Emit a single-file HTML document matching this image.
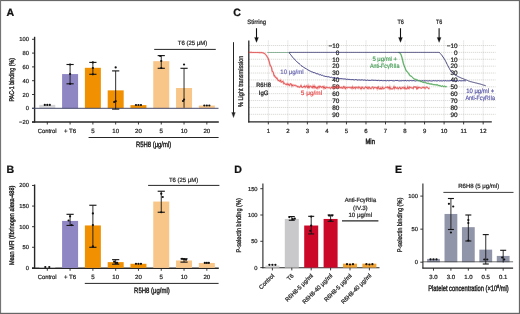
<!DOCTYPE html>
<html><head><meta charset="utf-8"><style>
html,body{margin:0;padding:0;background:#fff;}
body{width:520px;height:314px;overflow:hidden;}
svg{display:block;font-family:"Liberation Sans", sans-serif;will-change:transform;text-rendering:geometricPrecision;}

</style></head><body>
<svg width="520" height="314" viewBox="0 0 520 314">
<rect x="0" y="0" width="520" height="314" fill="#fff"/>
<line x1="34.60" y1="36.80" x2="34.60" y2="122.50" stroke="#262626" stroke-width="1.4"/>
<line x1="32.00" y1="39.30" x2="34.60" y2="39.30" stroke="#262626" stroke-width="0.9"/>
<text x="28.90" y="41.30" font-size="5.8" text-anchor="end" fill="#2a2a2a" stroke="#2a2a2a" stroke-width="0.24">100</text>
<line x1="32.00" y1="53.10" x2="34.60" y2="53.10" stroke="#262626" stroke-width="0.9"/>
<text x="28.90" y="55.10" font-size="5.8" text-anchor="end" fill="#2a2a2a" stroke="#2a2a2a" stroke-width="0.24">80</text>
<line x1="32.00" y1="66.90" x2="34.60" y2="66.90" stroke="#262626" stroke-width="0.9"/>
<text x="28.90" y="68.90" font-size="5.8" text-anchor="end" fill="#2a2a2a" stroke="#2a2a2a" stroke-width="0.24">60</text>
<line x1="32.00" y1="80.70" x2="34.60" y2="80.70" stroke="#262626" stroke-width="0.9"/>
<text x="28.90" y="82.70" font-size="5.8" text-anchor="end" fill="#2a2a2a" stroke="#2a2a2a" stroke-width="0.24">40</text>
<line x1="32.00" y1="94.50" x2="34.60" y2="94.50" stroke="#262626" stroke-width="0.9"/>
<text x="28.90" y="96.50" font-size="5.8" text-anchor="end" fill="#2a2a2a" stroke="#2a2a2a" stroke-width="0.24">20</text>
<line x1="32.00" y1="108.30" x2="34.60" y2="108.30" stroke="#262626" stroke-width="0.9"/>
<text x="28.90" y="110.30" font-size="5.8" text-anchor="end" fill="#2a2a2a" stroke="#2a2a2a" stroke-width="0.24">0</text>
<line x1="32.00" y1="122.10" x2="34.60" y2="122.10" stroke="#262626" stroke-width="0.9"/>
<text x="28.90" y="124.10" font-size="5.8" text-anchor="end" fill="#2a2a2a" stroke="#2a2a2a" stroke-width="0.24">&#8722;20</text>
<text x="14.40" y="79.80" font-size="6.9" text-anchor="middle" fill="#1e1e1e" stroke="#1e1e1e" stroke-width="0.38" textLength="43.5" lengthAdjust="spacingAndGlyphs" transform="rotate(-90 14.40 79.80)">PAC-1 binding (%)</text>
<line x1="32.00" y1="121.90" x2="218.80" y2="121.90" stroke="#262626" stroke-width="1.5"/>
<line x1="47.30" y1="121.90" x2="47.30" y2="124.50" stroke="#262626" stroke-width="0.9"/>
<text x="47.10" y="132.80" font-size="6.1" text-anchor="middle" fill="#2a2a2a" stroke="#2a2a2a" stroke-width="0.24" textLength="18.8" lengthAdjust="spacingAndGlyphs">Control</text>
<line x1="70.09" y1="121.90" x2="70.09" y2="124.50" stroke="#262626" stroke-width="0.9"/>
<text x="70.09" y="132.80" font-size="6.1" text-anchor="middle" fill="#2a2a2a" stroke="#2a2a2a" stroke-width="0.24">+ T6</text>
<line x1="92.88" y1="121.90" x2="92.88" y2="124.50" stroke="#262626" stroke-width="0.9"/>
<text x="92.88" y="132.80" font-size="6.1" text-anchor="middle" fill="#2a2a2a" stroke="#2a2a2a" stroke-width="0.24">5</text>
<line x1="115.67" y1="121.90" x2="115.67" y2="124.50" stroke="#262626" stroke-width="0.9"/>
<text x="115.67" y="132.80" font-size="6.1" text-anchor="middle" fill="#2a2a2a" stroke="#2a2a2a" stroke-width="0.24">10</text>
<line x1="138.46" y1="121.90" x2="138.46" y2="124.50" stroke="#262626" stroke-width="0.9"/>
<text x="138.46" y="132.80" font-size="6.1" text-anchor="middle" fill="#2a2a2a" stroke="#2a2a2a" stroke-width="0.24">20</text>
<line x1="161.25" y1="121.90" x2="161.25" y2="124.50" stroke="#262626" stroke-width="0.9"/>
<text x="161.25" y="132.80" font-size="6.1" text-anchor="middle" fill="#2a2a2a" stroke="#2a2a2a" stroke-width="0.24">5</text>
<line x1="184.04" y1="121.90" x2="184.04" y2="124.50" stroke="#262626" stroke-width="0.9"/>
<text x="184.04" y="132.80" font-size="6.1" text-anchor="middle" fill="#2a2a2a" stroke="#2a2a2a" stroke-width="0.24">10</text>
<line x1="206.83" y1="121.90" x2="206.83" y2="124.50" stroke="#262626" stroke-width="0.9"/>
<text x="206.83" y="132.80" font-size="6.1" text-anchor="middle" fill="#2a2a2a" stroke="#2a2a2a" stroke-width="0.24">20</text>
<line x1="88.60" y1="137.50" x2="218.60" y2="137.50" stroke="#262626" stroke-width="1.0"/>
<text x="136.00" y="146.90" font-size="7.7" text-anchor="start" fill="#222" stroke="#222" stroke-width="0.4" textLength="35.2" lengthAdjust="spacingAndGlyphs">R5H8 (&#956;g/ml)</text>
<line x1="154.20" y1="49.40" x2="215.80" y2="49.40" stroke="#262626" stroke-width="1.0"/>
<text x="192.50" y="45.30" font-size="6.2" text-anchor="middle" fill="#2a2a2a" stroke="#2a2a2a" stroke-width="0.24" textLength="29.5" lengthAdjust="spacingAndGlyphs">T6 (25 &#956;M)</text>
<rect x="39.30" y="104.85" width="16.00" height="3.45" fill="#d6d6d8"/>
<rect x="62.09" y="74.08" width="16.00" height="34.22" fill="#8f86c4"/>
<rect x="84.88" y="67.80" width="16.00" height="40.50" fill="#f19102"/>
<rect x="107.67" y="90.36" width="16.00" height="17.94" fill="#f19102"/>
<rect x="130.46" y="105.13" width="16.00" height="3.17" fill="#f19102"/>
<rect x="153.25" y="61.17" width="16.00" height="47.13" fill="#f9c689"/>
<rect x="176.04" y="88.01" width="16.00" height="20.29" fill="#f9c689"/>
<rect x="198.83" y="105.54" width="16.00" height="2.76" fill="#f9c689"/>
<line x1="32.00" y1="108.30" x2="218.50" y2="108.30" stroke="#454a6a" stroke-width="1.0"/>
<line x1="70.09" y1="64.50" x2="70.09" y2="83.80" stroke="#161616" stroke-width="0.9"/>
<line x1="66.49" y1="64.50" x2="73.69" y2="64.50" stroke="#161616" stroke-width="1.125"/>
<line x1="66.49" y1="83.80" x2="73.69" y2="83.80" stroke="#161616" stroke-width="1.125"/>
<line x1="92.88" y1="62.40" x2="92.88" y2="74.30" stroke="#161616" stroke-width="0.9"/>
<line x1="89.28" y1="62.40" x2="96.48" y2="62.40" stroke="#161616" stroke-width="1.125"/>
<line x1="89.28" y1="74.30" x2="96.48" y2="74.30" stroke="#161616" stroke-width="1.125"/>
<line x1="115.67" y1="70.90" x2="115.67" y2="109.10" stroke="#161616" stroke-width="0.9"/>
<line x1="112.07" y1="70.90" x2="119.27" y2="70.90" stroke="#161616" stroke-width="1.125"/>
<line x1="112.07" y1="109.10" x2="119.27" y2="109.10" stroke="#161616" stroke-width="1.125"/>
<line x1="161.25" y1="55.60" x2="161.25" y2="68.30" stroke="#161616" stroke-width="0.9"/>
<line x1="157.65" y1="55.60" x2="164.85" y2="55.60" stroke="#161616" stroke-width="1.125"/>
<line x1="157.65" y1="68.30" x2="164.85" y2="68.30" stroke="#161616" stroke-width="1.125"/>
<line x1="184.04" y1="68.30" x2="184.04" y2="107.80" stroke="#161616" stroke-width="0.9"/>
<line x1="180.44" y1="68.30" x2="187.64" y2="68.30" stroke="#161616" stroke-width="1.125"/>
<circle cx="44.80" cy="104.90" r="1.12" fill="#111"/>
<circle cx="47.30" cy="104.90" r="1.12" fill="#111"/>
<circle cx="49.80" cy="104.90" r="1.12" fill="#111"/>
<circle cx="70.09" cy="64.50" r="1.12" fill="#111"/>
<circle cx="70.09" cy="74.00" r="1.12" fill="#111"/>
<circle cx="70.09" cy="83.80" r="1.12" fill="#111"/>
<circle cx="92.88" cy="62.40" r="1.12" fill="#111"/>
<circle cx="92.88" cy="68.00" r="1.12" fill="#111"/>
<circle cx="92.88" cy="74.30" r="1.12" fill="#111"/>
<circle cx="115.67" cy="67.40" r="1.12" fill="#111"/>
<circle cx="115.67" cy="101.20" r="1.12" fill="#111"/>
<circle cx="114.17" cy="102.00" r="1.12" fill="#111"/>
<circle cx="135.96" cy="105.00" r="1.12" fill="#111"/>
<circle cx="138.46" cy="105.00" r="1.12" fill="#111"/>
<circle cx="140.96" cy="105.00" r="1.12" fill="#111"/>
<circle cx="160.25" cy="56.00" r="1.12" fill="#111"/>
<circle cx="161.25" cy="61.00" r="1.12" fill="#111"/>
<circle cx="161.25" cy="68.00" r="1.12" fill="#111"/>
<circle cx="184.04" cy="64.50" r="1.12" fill="#111"/>
<circle cx="184.04" cy="99.50" r="1.12" fill="#111"/>
<circle cx="183.04" cy="101.00" r="1.12" fill="#111"/>
<circle cx="204.33" cy="105.50" r="1.12" fill="#111"/>
<circle cx="206.83" cy="105.50" r="1.12" fill="#111"/>
<circle cx="209.33" cy="105.50" r="1.12" fill="#111"/>
<line x1="34.60" y1="184.50" x2="34.60" y2="268.80" stroke="#262626" stroke-width="1.4"/>
<line x1="32.00" y1="185.46" x2="34.60" y2="185.46" stroke="#262626" stroke-width="0.9"/>
<text x="28.90" y="187.46" font-size="5.8" text-anchor="end" fill="#2a2a2a" stroke="#2a2a2a" stroke-width="0.24">200</text>
<line x1="32.00" y1="206.07" x2="34.60" y2="206.07" stroke="#262626" stroke-width="0.9"/>
<text x="28.90" y="208.07" font-size="5.8" text-anchor="end" fill="#2a2a2a" stroke="#2a2a2a" stroke-width="0.24">150</text>
<line x1="32.00" y1="226.68" x2="34.60" y2="226.68" stroke="#262626" stroke-width="0.9"/>
<text x="28.90" y="228.68" font-size="5.8" text-anchor="end" fill="#2a2a2a" stroke="#2a2a2a" stroke-width="0.24">100</text>
<line x1="32.00" y1="247.29" x2="34.60" y2="247.29" stroke="#262626" stroke-width="0.9"/>
<text x="28.90" y="249.29" font-size="5.8" text-anchor="end" fill="#2a2a2a" stroke="#2a2a2a" stroke-width="0.24">50</text>
<line x1="32.00" y1="267.90" x2="34.60" y2="267.90" stroke="#262626" stroke-width="0.9"/>
<text x="28.90" y="269.90" font-size="5.8" text-anchor="end" fill="#2a2a2a" stroke="#2a2a2a" stroke-width="0.24">0</text>
<text x="13.70" y="225.40" font-size="6.9" text-anchor="middle" fill="#1e1e1e" stroke="#1e1e1e" stroke-width="0.38" textLength="79.3" lengthAdjust="spacingAndGlyphs" transform="rotate(-90 13.70 225.40)">Mean MFI (fibrinogen alexa-488)</text>
<line x1="32.00" y1="268.20" x2="218.80" y2="268.20" stroke="#262626" stroke-width="1.5"/>
<line x1="47.30" y1="268.20" x2="47.30" y2="270.80" stroke="#262626" stroke-width="0.9"/>
<text x="47.10" y="279.30" font-size="6.1" text-anchor="middle" fill="#2a2a2a" stroke="#2a2a2a" stroke-width="0.24" textLength="18.8" lengthAdjust="spacingAndGlyphs">Control</text>
<line x1="70.09" y1="268.20" x2="70.09" y2="270.80" stroke="#262626" stroke-width="0.9"/>
<text x="70.09" y="279.30" font-size="6.1" text-anchor="middle" fill="#2a2a2a" stroke="#2a2a2a" stroke-width="0.24">+ T6</text>
<line x1="92.88" y1="268.20" x2="92.88" y2="270.80" stroke="#262626" stroke-width="0.9"/>
<text x="92.88" y="279.30" font-size="6.1" text-anchor="middle" fill="#2a2a2a" stroke="#2a2a2a" stroke-width="0.24">5</text>
<line x1="115.67" y1="268.20" x2="115.67" y2="270.80" stroke="#262626" stroke-width="0.9"/>
<text x="115.67" y="279.30" font-size="6.1" text-anchor="middle" fill="#2a2a2a" stroke="#2a2a2a" stroke-width="0.24">10</text>
<line x1="138.46" y1="268.20" x2="138.46" y2="270.80" stroke="#262626" stroke-width="0.9"/>
<text x="138.46" y="279.30" font-size="6.1" text-anchor="middle" fill="#2a2a2a" stroke="#2a2a2a" stroke-width="0.24">20</text>
<line x1="161.25" y1="268.20" x2="161.25" y2="270.80" stroke="#262626" stroke-width="0.9"/>
<text x="161.25" y="279.30" font-size="6.1" text-anchor="middle" fill="#2a2a2a" stroke="#2a2a2a" stroke-width="0.24">5</text>
<line x1="184.04" y1="268.20" x2="184.04" y2="270.80" stroke="#262626" stroke-width="0.9"/>
<text x="184.04" y="279.30" font-size="6.1" text-anchor="middle" fill="#2a2a2a" stroke="#2a2a2a" stroke-width="0.24">10</text>
<line x1="206.83" y1="268.20" x2="206.83" y2="270.80" stroke="#262626" stroke-width="0.9"/>
<text x="206.83" y="279.30" font-size="6.1" text-anchor="middle" fill="#2a2a2a" stroke="#2a2a2a" stroke-width="0.24">20</text>
<line x1="84.80" y1="283.40" x2="218.60" y2="283.40" stroke="#262626" stroke-width="1.0"/>
<text x="134.10" y="293.30" font-size="7.7" text-anchor="start" fill="#222" stroke="#222" stroke-width="0.4" textLength="35.7" lengthAdjust="spacingAndGlyphs">R5H8 (&#956;g/ml)</text>
<line x1="148.10" y1="185.40" x2="219.40" y2="185.40" stroke="#262626" stroke-width="1.0"/>
<text x="183.60" y="181.50" font-size="6.2" text-anchor="middle" fill="#2a2a2a" stroke="#2a2a2a" stroke-width="0.24" textLength="29.3" lengthAdjust="spacingAndGlyphs">T6 (25 &#956;M)</text>
<rect x="39.30" y="267.28" width="16.00" height="0.62" fill="#d6d6d8"/>
<rect x="62.09" y="220.91" width="16.00" height="46.99" fill="#8f86c4"/>
<rect x="84.88" y="225.44" width="16.00" height="42.46" fill="#f19102"/>
<rect x="107.67" y="262.13" width="16.00" height="5.77" fill="#f19102"/>
<rect x="130.46" y="263.78" width="16.00" height="4.12" fill="#f19102"/>
<rect x="153.25" y="201.54" width="16.00" height="66.36" fill="#f9c689"/>
<rect x="176.04" y="260.48" width="16.00" height="7.42" fill="#f9c689"/>
<rect x="198.83" y="262.95" width="16.00" height="4.95" fill="#f9c689"/>
<line x1="70.09" y1="214.31" x2="70.09" y2="225.44" stroke="#161616" stroke-width="0.9"/>
<line x1="66.49" y1="214.31" x2="73.69" y2="214.31" stroke="#161616" stroke-width="1.125"/>
<line x1="66.49" y1="225.44" x2="73.69" y2="225.44" stroke="#161616" stroke-width="1.125"/>
<line x1="92.88" y1="205.25" x2="92.88" y2="247.29" stroke="#161616" stroke-width="0.9"/>
<line x1="89.28" y1="205.25" x2="96.48" y2="205.25" stroke="#161616" stroke-width="1.125"/>
<line x1="89.28" y1="247.29" x2="96.48" y2="247.29" stroke="#161616" stroke-width="1.125"/>
<line x1="115.67" y1="259.66" x2="115.67" y2="264.19" stroke="#161616" stroke-width="0.9"/>
<line x1="112.07" y1="259.66" x2="119.27" y2="259.66" stroke="#161616" stroke-width="1.125"/>
<line x1="112.07" y1="264.19" x2="119.27" y2="264.19" stroke="#161616" stroke-width="1.125"/>
<line x1="161.25" y1="191.23" x2="161.25" y2="212.25" stroke="#161616" stroke-width="0.9"/>
<line x1="157.65" y1="191.23" x2="164.85" y2="191.23" stroke="#161616" stroke-width="1.125"/>
<line x1="157.65" y1="212.25" x2="164.85" y2="212.25" stroke="#161616" stroke-width="1.125"/>
<line x1="184.04" y1="258.83" x2="184.04" y2="262.13" stroke="#161616" stroke-width="0.9"/>
<line x1="180.44" y1="258.83" x2="187.64" y2="258.83" stroke="#161616" stroke-width="1.125"/>
<line x1="180.44" y1="262.13" x2="187.64" y2="262.13" stroke="#161616" stroke-width="1.125"/>
<circle cx="45.30" cy="267.00" r="1.12" fill="#111"/>
<circle cx="49.30" cy="267.00" r="1.12" fill="#111"/>
<circle cx="70.09" cy="216.37" r="1.12" fill="#111"/>
<circle cx="68.59" cy="220.50" r="1.12" fill="#111"/>
<circle cx="71.59" cy="225.03" r="1.12" fill="#111"/>
<circle cx="92.88" cy="213.49" r="1.12" fill="#111"/>
<circle cx="92.88" cy="225.03" r="1.12" fill="#111"/>
<circle cx="92.88" cy="246.47" r="1.12" fill="#111"/>
<circle cx="114.17" cy="261.72" r="1.12" fill="#111"/>
<circle cx="115.67" cy="262.95" r="1.12" fill="#111"/>
<circle cx="117.17" cy="262.95" r="1.12" fill="#111"/>
<circle cx="135.96" cy="263.78" r="1.12" fill="#111"/>
<circle cx="138.46" cy="263.78" r="1.12" fill="#111"/>
<circle cx="140.96" cy="263.78" r="1.12" fill="#111"/>
<circle cx="161.25" cy="193.70" r="1.12" fill="#111"/>
<circle cx="162.75" cy="197.00" r="1.12" fill="#111"/>
<circle cx="161.25" cy="212.25" r="1.12" fill="#111"/>
<circle cx="182.04" cy="258.83" r="1.12" fill="#111"/>
<circle cx="184.04" cy="259.24" r="1.12" fill="#111"/>
<circle cx="186.04" cy="259.66" r="1.12" fill="#111"/>
<circle cx="204.83" cy="262.95" r="1.12" fill="#111"/>
<circle cx="206.83" cy="262.95" r="1.12" fill="#111"/>
<circle cx="208.83" cy="262.95" r="1.12" fill="#111"/>
<text x="6.50" y="15.50" font-size="10.6" text-anchor="start" fill="#111" stroke="#111" stroke-width="0.24" font-weight="bold">A</text>
<text x="6.60" y="172.70" font-size="10.6" text-anchor="start" fill="#111" stroke="#111" stroke-width="0.24" font-weight="bold">B</text>
<text x="233.30" y="15.50" font-size="10.6" text-anchor="start" fill="#111" stroke="#111" stroke-width="0.24" font-weight="bold">C</text>
<text x="234.30" y="172.60" font-size="10.6" text-anchor="start" fill="#111" stroke="#111" stroke-width="0.24" font-weight="bold">D</text>
<text x="395.00" y="172.70" font-size="10.6" text-anchor="start" fill="#111" stroke="#111" stroke-width="0.24" font-weight="bold">E</text>
<line x1="268.33" y1="40.50" x2="268.33" y2="121.90" stroke="#c4c4c4" stroke-width="0.6" stroke-dasharray="1.2 0.8"/>
<line x1="287.86" y1="40.50" x2="287.86" y2="121.90" stroke="#c4c4c4" stroke-width="0.6" stroke-dasharray="1.2 0.8"/>
<line x1="307.39" y1="40.50" x2="307.39" y2="121.90" stroke="#c4c4c4" stroke-width="0.6" stroke-dasharray="1.2 0.8"/>
<line x1="326.92" y1="40.50" x2="326.92" y2="121.90" stroke="#c4c4c4" stroke-width="0.6" stroke-dasharray="1.2 0.8"/>
<line x1="346.45" y1="40.50" x2="346.45" y2="121.90" stroke="#c4c4c4" stroke-width="0.6" stroke-dasharray="1.2 0.8"/>
<line x1="365.98" y1="40.50" x2="365.98" y2="121.90" stroke="#c4c4c4" stroke-width="0.6" stroke-dasharray="1.2 0.8"/>
<line x1="385.51" y1="40.50" x2="385.51" y2="121.90" stroke="#c4c4c4" stroke-width="0.6" stroke-dasharray="1.2 0.8"/>
<line x1="405.04" y1="40.50" x2="405.04" y2="121.90" stroke="#c4c4c4" stroke-width="0.6" stroke-dasharray="1.2 0.8"/>
<line x1="424.57" y1="40.50" x2="424.57" y2="121.90" stroke="#c4c4c4" stroke-width="0.6" stroke-dasharray="1.2 0.8"/>
<line x1="444.10" y1="40.50" x2="444.10" y2="121.90" stroke="#c4c4c4" stroke-width="0.6" stroke-dasharray="1.2 0.8"/>
<line x1="463.63" y1="40.50" x2="463.63" y2="121.90" stroke="#c4c4c4" stroke-width="0.6" stroke-dasharray="1.2 0.8"/>
<line x1="483.16" y1="40.50" x2="483.16" y2="121.90" stroke="#c4c4c4" stroke-width="0.6" stroke-dasharray="1.2 0.8"/>
<line x1="248.80" y1="45.52" x2="495.50" y2="45.52" stroke="#b4b4ac" stroke-width="0.6" stroke-dasharray="1 1"/>
<line x1="248.80" y1="52.40" x2="495.50" y2="52.40" stroke="#b4b4ac" stroke-width="0.6" stroke-dasharray="1 1"/>
<line x1="248.80" y1="59.28" x2="495.50" y2="59.28" stroke="#b4b4ac" stroke-width="0.6" stroke-dasharray="1 1"/>
<line x1="248.80" y1="66.16" x2="495.50" y2="66.16" stroke="#b4b4ac" stroke-width="0.6" stroke-dasharray="1 1"/>
<line x1="248.80" y1="73.04" x2="495.50" y2="73.04" stroke="#b4b4ac" stroke-width="0.6" stroke-dasharray="1 1"/>
<line x1="248.80" y1="79.92" x2="495.50" y2="79.92" stroke="#b4b4ac" stroke-width="0.6" stroke-dasharray="1 1"/>
<line x1="248.80" y1="86.80" x2="495.50" y2="86.80" stroke="#b4b4ac" stroke-width="0.6" stroke-dasharray="1 1"/>
<line x1="248.80" y1="93.68" x2="495.50" y2="93.68" stroke="#b4b4ac" stroke-width="0.6" stroke-dasharray="1 1"/>
<line x1="248.80" y1="100.56" x2="495.50" y2="100.56" stroke="#b4b4ac" stroke-width="0.6" stroke-dasharray="1 1"/>
<line x1="248.80" y1="107.44" x2="495.50" y2="107.44" stroke="#b4b4ac" stroke-width="0.6" stroke-dasharray="1 1"/>
<line x1="248.80" y1="114.32" x2="495.50" y2="114.32" stroke="#b4b4ac" stroke-width="0.6" stroke-dasharray="1 1"/>
<line x1="248.80" y1="40.50" x2="248.80" y2="122.50" stroke="#262626" stroke-width="1.3"/>
<line x1="248.20" y1="121.90" x2="491.80" y2="121.90" stroke="#262626" stroke-width="1.3"/>
<line x1="268.33" y1="121.90" x2="268.33" y2="124.40" stroke="#262626" stroke-width="0.9"/>
<text x="268.33" y="132.70" font-size="6.0" text-anchor="middle" fill="#2a2a2a" stroke="#2a2a2a" stroke-width="0.24">1</text>
<line x1="287.86" y1="121.90" x2="287.86" y2="124.40" stroke="#262626" stroke-width="0.9"/>
<text x="287.86" y="132.70" font-size="6.0" text-anchor="middle" fill="#2a2a2a" stroke="#2a2a2a" stroke-width="0.24">2</text>
<line x1="307.39" y1="121.90" x2="307.39" y2="124.40" stroke="#262626" stroke-width="0.9"/>
<text x="307.39" y="132.70" font-size="6.0" text-anchor="middle" fill="#2a2a2a" stroke="#2a2a2a" stroke-width="0.24">3</text>
<line x1="326.92" y1="121.90" x2="326.92" y2="124.40" stroke="#262626" stroke-width="0.9"/>
<text x="326.92" y="132.70" font-size="6.0" text-anchor="middle" fill="#2a2a2a" stroke="#2a2a2a" stroke-width="0.24">4</text>
<line x1="346.45" y1="121.90" x2="346.45" y2="124.40" stroke="#262626" stroke-width="0.9"/>
<text x="346.45" y="132.70" font-size="6.0" text-anchor="middle" fill="#2a2a2a" stroke="#2a2a2a" stroke-width="0.24">5</text>
<line x1="365.98" y1="121.90" x2="365.98" y2="124.40" stroke="#262626" stroke-width="0.9"/>
<text x="365.98" y="132.70" font-size="6.0" text-anchor="middle" fill="#2a2a2a" stroke="#2a2a2a" stroke-width="0.24">6</text>
<line x1="385.51" y1="121.90" x2="385.51" y2="124.40" stroke="#262626" stroke-width="0.9"/>
<text x="385.51" y="132.70" font-size="6.0" text-anchor="middle" fill="#2a2a2a" stroke="#2a2a2a" stroke-width="0.24">7</text>
<line x1="405.04" y1="121.90" x2="405.04" y2="124.40" stroke="#262626" stroke-width="0.9"/>
<text x="405.04" y="132.70" font-size="6.0" text-anchor="middle" fill="#2a2a2a" stroke="#2a2a2a" stroke-width="0.24">8</text>
<line x1="424.57" y1="121.90" x2="424.57" y2="124.40" stroke="#262626" stroke-width="0.9"/>
<text x="424.57" y="132.70" font-size="6.0" text-anchor="middle" fill="#2a2a2a" stroke="#2a2a2a" stroke-width="0.24">9</text>
<line x1="444.10" y1="121.90" x2="444.10" y2="124.40" stroke="#262626" stroke-width="0.9"/>
<text x="444.10" y="132.70" font-size="6.0" text-anchor="middle" fill="#2a2a2a" stroke="#2a2a2a" stroke-width="0.24">10</text>
<line x1="463.63" y1="121.90" x2="463.63" y2="124.40" stroke="#262626" stroke-width="0.9"/>
<text x="463.63" y="132.70" font-size="6.0" text-anchor="middle" fill="#2a2a2a" stroke="#2a2a2a" stroke-width="0.24">11</text>
<line x1="483.16" y1="121.90" x2="483.16" y2="124.40" stroke="#262626" stroke-width="0.9"/>
<text x="483.16" y="132.70" font-size="6.0" text-anchor="middle" fill="#2a2a2a" stroke="#2a2a2a" stroke-width="0.24">12</text>
<text x="370.20" y="143.60" font-size="7.6" text-anchor="middle" fill="#222" stroke="#222" stroke-width="0.5" textLength="9.3" lengthAdjust="spacingAndGlyphs">Min</text>
<text x="339.40" y="47.77" font-size="6.4" text-anchor="end" fill="#2a2a2a" stroke="#2a2a2a" stroke-width="0.24">&#8722;10</text>
<text x="457.60" y="47.77" font-size="6.4" text-anchor="end" fill="#2a2a2a" stroke="#2a2a2a" stroke-width="0.24">&#8722;10</text>
<text x="339.40" y="54.65" font-size="6.4" text-anchor="end" fill="#2a2a2a" stroke="#2a2a2a" stroke-width="0.24">0</text>
<text x="457.60" y="54.65" font-size="6.4" text-anchor="end" fill="#2a2a2a" stroke="#2a2a2a" stroke-width="0.24">0</text>
<text x="339.40" y="61.53" font-size="6.4" text-anchor="end" fill="#2a2a2a" stroke="#2a2a2a" stroke-width="0.24">10</text>
<text x="457.60" y="61.53" font-size="6.4" text-anchor="end" fill="#2a2a2a" stroke="#2a2a2a" stroke-width="0.24">10</text>
<text x="339.40" y="68.41" font-size="6.4" text-anchor="end" fill="#2a2a2a" stroke="#2a2a2a" stroke-width="0.24">20</text>
<text x="457.60" y="68.41" font-size="6.4" text-anchor="end" fill="#2a2a2a" stroke="#2a2a2a" stroke-width="0.24">20</text>
<text x="339.40" y="75.29" font-size="6.4" text-anchor="end" fill="#2a2a2a" stroke="#2a2a2a" stroke-width="0.24">30</text>
<text x="457.60" y="75.29" font-size="6.4" text-anchor="end" fill="#2a2a2a" stroke="#2a2a2a" stroke-width="0.24">30</text>
<text x="339.40" y="82.17" font-size="6.4" text-anchor="end" fill="#2a2a2a" stroke="#2a2a2a" stroke-width="0.24">40</text>
<text x="457.60" y="82.17" font-size="6.4" text-anchor="end" fill="#2a2a2a" stroke="#2a2a2a" stroke-width="0.24">40</text>
<text x="339.40" y="89.05" font-size="6.4" text-anchor="end" fill="#2a2a2a" stroke="#2a2a2a" stroke-width="0.24">50</text>
<text x="457.60" y="89.05" font-size="6.4" text-anchor="end" fill="#2a2a2a" stroke="#2a2a2a" stroke-width="0.24">50</text>
<text x="339.40" y="95.93" font-size="6.4" text-anchor="end" fill="#2a2a2a" stroke="#2a2a2a" stroke-width="0.24">60</text>
<text x="457.60" y="95.93" font-size="6.4" text-anchor="end" fill="#2a2a2a" stroke="#2a2a2a" stroke-width="0.24">60</text>
<text x="339.40" y="102.81" font-size="6.4" text-anchor="end" fill="#2a2a2a" stroke="#2a2a2a" stroke-width="0.24">70</text>
<text x="457.60" y="102.81" font-size="6.4" text-anchor="end" fill="#2a2a2a" stroke="#2a2a2a" stroke-width="0.24">70</text>
<text x="339.40" y="109.69" font-size="6.4" text-anchor="end" fill="#2a2a2a" stroke="#2a2a2a" stroke-width="0.24">80</text>
<text x="457.60" y="109.69" font-size="6.4" text-anchor="end" fill="#2a2a2a" stroke="#2a2a2a" stroke-width="0.24">80</text>
<text x="339.40" y="116.57" font-size="6.4" text-anchor="end" fill="#2a2a2a" stroke="#2a2a2a" stroke-width="0.24">90</text>
<text x="457.60" y="116.57" font-size="6.4" text-anchor="end" fill="#2a2a2a" stroke="#2a2a2a" stroke-width="0.24">90</text>
<line x1="233.50" y1="42.20" x2="233.50" y2="114.00" stroke="#222" stroke-width="1.0"/>
<path d="M231.7,112.6 L233.5,117.6 L235.3,112.6 Z" stroke="#222" stroke-width="0.3" fill="#222"/>
<text x="243.20" y="81.30" font-size="6.8" text-anchor="middle" fill="#222" stroke="#222" stroke-width="0.3" textLength="51.4" lengthAdjust="spacingAndGlyphs" transform="rotate(-90 243.20 81.30)">% Light transmission</text>
<text x="256.70" y="23.90" font-size="6.3" text-anchor="middle" fill="#2a2a2a" stroke="#2a2a2a" stroke-width="0.24" textLength="18.9" lengthAdjust="spacingAndGlyphs">Stirring</text>
<line x1="256.50" y1="28.20" x2="256.50" y2="38.50" stroke="#111" stroke-width="1.1"/>
<path d="M254.5,37.4 L256.5,42.4 L258.5,37.4 Z" stroke="#111" stroke-width="0.2" fill="#111"/>
<line x1="400.50" y1="28.20" x2="400.50" y2="38.50" stroke="#111" stroke-width="1.1"/>
<path d="M398.5,37.4 L400.5,42.4 L402.5,37.4 Z" stroke="#111" stroke-width="0.2" fill="#111"/>
<line x1="439.10" y1="28.20" x2="439.10" y2="38.50" stroke="#111" stroke-width="1.1"/>
<path d="M437.1,37.4 L439.1,42.4 L441.1,37.4 Z" stroke="#111" stroke-width="0.2" fill="#111"/>
<text x="400.60" y="23.90" font-size="6.3" text-anchor="middle" fill="#2a2a2a" stroke="#2a2a2a" stroke-width="0.24" textLength="6.4" lengthAdjust="spacingAndGlyphs">T6</text>
<text x="439.10" y="23.90" font-size="6.3" text-anchor="middle" fill="#2a2a2a" stroke="#2a2a2a" stroke-width="0.24" textLength="6.3" lengthAdjust="spacingAndGlyphs">T6</text>
<polyline fill="none" stroke="#f07070" stroke-width="1.7" stroke-opacity="0.5" points="248.8,52.4 249.4,52.4 250.0,52.4 250.6,52.4 251.2,52.4 251.8,52.4 252.4,52.5 253.0,52.5 253.6,52.5 254.2,52.5 254.8,52.5 255.4,52.5 256.0,52.5 256.6,52.5 257.2,52.5 257.8,52.5 258.4,52.5 259.0,52.6 259.6,52.6 260.2,52.6 260.8,52.6 261.4,52.6 262.0,52.6 262.6,52.8 263.2,53.0 263.8,53.2 264.4,53.4 265.0,53.9 265.6,54.6 266.2,55.2 266.8,56.1 267.4,57.3 268.0,57.9 268.6,59.9 269.2,61.5 269.8,64.0 270.4,66.0 271.0,66.3 271.6,67.9 272.2,71.5 272.8,71.5 273.4,72.7 274.0,75.7 274.6,75.6 275.2,77.2 275.8,77.2 276.4,78.3 277.0,78.0 277.6,79.6 278.2,80.6 278.8,80.2 279.4,81.1 280.0,81.4 280.6,80.2 281.2,82.2 281.8,82.0 282.4,81.6 283.0,81.3 283.6,83.5 284.2,82.9 284.8,83.7 285.4,84.3 286.0,84.1 286.6,84.7 287.2,83.6 287.8,84.8 288.4,84.1 289.0,85.4 289.6,85.4 290.2,83.7 290.8,83.9 291.4,84.2 292.0,86.1 292.6,85.0 293.2,85.5 293.8,84.9 294.4,85.5 295.0,85.3 295.6,85.3 296.2,85.9 296.8,86.0 297.4,86.8 298.0,86.3 298.6,87.0 299.2,86.9 299.8,87.3 300.4,86.6 301.0,85.4 301.6,87.1 302.2,87.4 302.8,87.4 303.4,86.6 304.0,87.0 304.6,85.9 305.2,87.4 305.8,86.8 306.4,86.1 307.0,85.6 307.6,87.6 308.2,87.9 308.8,85.8 309.4,87.5 310.0,86.6 310.6,86.0 311.2,86.4 311.8,87.6 312.4,87.8 313.0,85.9 313.6,87.3 314.2,85.9 314.8,87.6 315.4,86.7 316.0,88.0 316.6,88.3 317.2,87.2 317.8,88.4 318.4,86.8 319.0,86.2 319.6,87.5 320.2,86.2 320.8,86.6 321.4,87.1 322.0,87.6 322.6,86.5 323.2,86.3 323.8,88.2 324.4,86.9 325.0,88.5 325.6,88.3 326.2,87.1 326.8,87.3 327.4,87.5 328.0,87.8 328.6,87.7 329.2,87.6 329.8,87.8 330.4,88.5 331.0,87.5 331.6,87.3 332.2,88.0 332.8,86.9 333.4,87.0 334.0,88.7 334.6,87.6 335.2,87.7 335.8,86.4 336.4,87.4 337.0,87.8 337.6,86.4 338.2,87.9 338.8,87.9 339.4,86.6 340.0,87.9 340.6,87.6 341.2,88.1 341.8,87.3 342.4,88.2 343.0,88.3 343.6,86.5 344.2,86.6 344.8,88.1 345.4,88.8 346.0,87.1 346.6,87.6 347.2,88.0 347.8,87.3 348.4,87.4 349.0,87.3 349.6,87.5 350.2,88.0 350.8,87.3 351.4,87.5 352.0,88.5 352.6,86.7 353.2,88.0 353.8,88.4 354.4,87.4 355.0,87.1 355.6,88.5 356.2,87.2 356.8,87.1 357.4,87.7 358.0,88.3 358.6,86.9 359.2,87.4 359.8,87.4 360.4,88.6 361.0,87.7 361.6,88.7 362.2,87.0 362.8,87.4 363.4,88.2 364.0,88.8 364.6,87.7 365.2,87.2 365.8,86.9 366.4,87.9 367.0,87.1 367.6,88.6 368.2,88.7 368.8,87.1 369.4,87.3 370.0,88.6 370.6,88.2 371.2,88.6 371.8,87.5 372.4,87.0 373.0,87.4 373.6,88.6 374.2,87.3 374.8,87.5 375.4,87.7 376.0,87.7 376.6,87.6 377.2,88.9 377.8,87.0 378.4,86.7 379.0,88.9 379.6,88.8 380.2,89.0 380.8,87.7 381.4,89.0 382.0,88.9 382.6,87.2 383.2,88.5 383.8,88.7 384.4,88.3 385.0,87.9 385.6,87.4 386.2,87.5 386.8,87.2 387.4,86.9 388.0,88.1 388.6,87.4 389.2,88.6 389.8,86.8 390.4,88.9 391.0,88.4 391.6,88.9 392.2,88.9 392.8,88.9 393.4,88.1 394.0,86.7 394.6,88.5 395.2,87.1 395.8,87.4 396.4,88.3 397.0,88.0 397.6,87.7 398.2,89.0 398.8,88.2 399.4,87.5 400.0,87.3 400.6,88.8 401.2,87.9 401.8,88.6 402.4,87.6 403.0,87.2 403.6,88.0 404.2,88.7 404.8,87.1 405.4,88.6 406.0,89.0 406.6,88.7 407.2,88.7 407.8,86.8 408.4,88.3 409.0,88.8 409.6,86.9 410.2,87.4 410.8,87.4 411.4,88.0 412.0,87.8 412.6,87.9 413.2,88.6 413.8,86.8 414.4,86.9 415.0,87.1 415.6,87.1 416.2,86.9 416.8,89.1 417.4,88.8 418.0,87.0 418.6,88.0 419.2,87.5 419.8,87.5 420.4,87.6 421.0,88.3 421.6,88.2 422.2,87.6 422.8,87.2 423.4,87.6 424.0,87.1 424.6,88.1 425.2,88.5 425.8,87.7 426.4,87.0 427.0,87.2 427.6,87.7 428.2,88.2 428.8,88.7 429.4,87.7"/>
<polyline fill="none" stroke="#d82828" stroke-width="0.6" points="248.8,52.4 249.4,52.4 250.0,52.4 250.6,52.4 251.2,52.4 251.8,52.4 252.4,52.5 253.0,52.5 253.6,52.5 254.2,52.5 254.8,52.5 255.4,52.5 256.0,52.5 256.6,52.5 257.2,52.5 257.8,52.5 258.4,52.5 259.0,52.6 259.6,52.6 260.2,52.6 260.8,52.6 261.4,52.6 262.0,52.6 262.6,52.8 263.2,53.0 263.8,53.2 264.4,53.4 265.0,53.9 265.6,54.6 266.2,55.2 266.8,56.1 267.4,57.3 268.0,57.9 268.6,59.9 269.2,61.5 269.8,64.0 270.4,66.0 271.0,66.3 271.6,67.9 272.2,71.5 272.8,71.5 273.4,72.7 274.0,75.7 274.6,75.6 275.2,77.2 275.8,77.2 276.4,78.3 277.0,78.0 277.6,79.6 278.2,80.6 278.8,80.2 279.4,81.1 280.0,81.4 280.6,80.2 281.2,82.2 281.8,82.0 282.4,81.6 283.0,81.3 283.6,83.5 284.2,82.9 284.8,83.7 285.4,84.3 286.0,84.1 286.6,84.7 287.2,83.6 287.8,84.8 288.4,84.1 289.0,85.4 289.6,85.4 290.2,83.7 290.8,83.9 291.4,84.2 292.0,86.1 292.6,85.0 293.2,85.5 293.8,84.9 294.4,85.5 295.0,85.3 295.6,85.3 296.2,85.9 296.8,86.0 297.4,86.8 298.0,86.3 298.6,87.0 299.2,86.9 299.8,87.3 300.4,86.6 301.0,85.4 301.6,87.1 302.2,87.4 302.8,87.4 303.4,86.6 304.0,87.0 304.6,85.9 305.2,87.4 305.8,86.8 306.4,86.1 307.0,85.6 307.6,87.6 308.2,87.9 308.8,85.8 309.4,87.5 310.0,86.6 310.6,86.0 311.2,86.4 311.8,87.6 312.4,87.8 313.0,85.9 313.6,87.3 314.2,85.9 314.8,87.6 315.4,86.7 316.0,88.0 316.6,88.3 317.2,87.2 317.8,88.4 318.4,86.8 319.0,86.2 319.6,87.5 320.2,86.2 320.8,86.6 321.4,87.1 322.0,87.6 322.6,86.5 323.2,86.3 323.8,88.2 324.4,86.9 325.0,88.5 325.6,88.3 326.2,87.1 326.8,87.3 327.4,87.5 328.0,87.8 328.6,87.7 329.2,87.6 329.8,87.8 330.4,88.5 331.0,87.5 331.6,87.3 332.2,88.0 332.8,86.9 333.4,87.0 334.0,88.7 334.6,87.6 335.2,87.7 335.8,86.4 336.4,87.4 337.0,87.8 337.6,86.4 338.2,87.9 338.8,87.9 339.4,86.6 340.0,87.9 340.6,87.6 341.2,88.1 341.8,87.3 342.4,88.2 343.0,88.3 343.6,86.5 344.2,86.6 344.8,88.1 345.4,88.8 346.0,87.1 346.6,87.6 347.2,88.0 347.8,87.3 348.4,87.4 349.0,87.3 349.6,87.5 350.2,88.0 350.8,87.3 351.4,87.5 352.0,88.5 352.6,86.7 353.2,88.0 353.8,88.4 354.4,87.4 355.0,87.1 355.6,88.5 356.2,87.2 356.8,87.1 357.4,87.7 358.0,88.3 358.6,86.9 359.2,87.4 359.8,87.4 360.4,88.6 361.0,87.7 361.6,88.7 362.2,87.0 362.8,87.4 363.4,88.2 364.0,88.8 364.6,87.7 365.2,87.2 365.8,86.9 366.4,87.9 367.0,87.1 367.6,88.6 368.2,88.7 368.8,87.1 369.4,87.3 370.0,88.6 370.6,88.2 371.2,88.6 371.8,87.5 372.4,87.0 373.0,87.4 373.6,88.6 374.2,87.3 374.8,87.5 375.4,87.7 376.0,87.7 376.6,87.6 377.2,88.9 377.8,87.0 378.4,86.7 379.0,88.9 379.6,88.8 380.2,89.0 380.8,87.7 381.4,89.0 382.0,88.9 382.6,87.2 383.2,88.5 383.8,88.7 384.4,88.3 385.0,87.9 385.6,87.4 386.2,87.5 386.8,87.2 387.4,86.9 388.0,88.1 388.6,87.4 389.2,88.6 389.8,86.8 390.4,88.9 391.0,88.4 391.6,88.9 392.2,88.9 392.8,88.9 393.4,88.1 394.0,86.7 394.6,88.5 395.2,87.1 395.8,87.4 396.4,88.3 397.0,88.0 397.6,87.7 398.2,89.0 398.8,88.2 399.4,87.5 400.0,87.3 400.6,88.8 401.2,87.9 401.8,88.6 402.4,87.6 403.0,87.2 403.6,88.0 404.2,88.7 404.8,87.1 405.4,88.6 406.0,89.0 406.6,88.7 407.2,88.7 407.8,86.8 408.4,88.3 409.0,88.8 409.6,86.9 410.2,87.4 410.8,87.4 411.4,88.0 412.0,87.8 412.6,87.9 413.2,88.6 413.8,86.8 414.4,86.9 415.0,87.1 415.6,87.1 416.2,86.9 416.8,89.1 417.4,88.8 418.0,87.0 418.6,88.0 419.2,87.5 419.8,87.5 420.4,87.6 421.0,88.3 421.6,88.2 422.2,87.6 422.8,87.2 423.4,87.6 424.0,87.1 424.6,88.1 425.2,88.5 425.8,87.7 426.4,87.0 427.0,87.2 427.6,87.7 428.2,88.2 428.8,88.7 429.4,87.7"/>
<polyline fill="none" stroke="#2f2e7a" stroke-width="0.95" points="289.0,52.7 289.8,53.7 290.6,54.6 291.4,55.6 292.2,56.7 293.0,57.7 293.8,58.5 294.6,59.5 295.4,60.2 296.2,60.9 297.0,61.8 297.8,62.7 298.6,63.1 299.4,63.9 300.2,64.6 301.0,65.5 301.8,66.1 302.6,66.4 303.4,67.2 304.2,67.7 305.0,68.0 305.8,68.6 306.6,68.9 307.4,69.7 308.2,70.0 309.0,70.6 309.8,70.9 310.6,71.3 311.4,71.7 312.2,72.0 313.0,72.1 313.8,72.7 314.6,72.7 315.4,73.1 316.2,73.7 317.0,73.6 317.8,73.9 318.6,74.2 319.4,74.8 320.2,74.7 321.0,74.8 321.8,75.5 322.6,75.3 323.4,75.9 324.2,76.0 325.0,76.3 325.8,76.5 326.6,76.5 327.4,76.8 328.2,76.6 329.0,77.1 329.8,77.1 330.6,77.4 331.4,77.2 332.2,77.7 333.0,77.9 333.8,77.6 334.6,77.8 335.4,78.1 336.2,78.3 337.0,78.1 337.8,78.2 338.6,78.3 339.4,78.6 340.2,78.7 341.0,78.6 341.8,78.7 342.6,78.8 343.4,78.9 344.2,79.0 345.0,78.9 345.8,79.1 346.6,79.4 347.4,79.2 348.2,79.5 349.0,79.2 349.8,79.5 350.6,79.6 351.4,79.6 352.2,79.6 353.0,79.6 353.8,79.8 354.6,79.9 355.4,79.6 356.2,79.6 357.0,80.0 357.8,80.1 358.6,79.9 359.4,79.9 360.2,80.1 361.0,79.9 361.8,79.9 362.6,79.9 363.4,80.2 364.2,80.0 365.0,80.0 365.8,80.3 366.6,80.4 367.4,80.1 368.2,80.4 369.0,80.2 369.8,80.5 370.6,80.4 371.4,80.2 372.2,80.2 373.0,80.1 373.8,80.4 374.6,80.3 375.4,80.3 376.2,80.4 377.0,80.4 377.8,80.6 378.6,80.3 379.4,80.7 380.2,80.5 381.0,80.6 381.8,80.5 382.6,80.7 383.4,80.7 384.2,80.6 385.0,80.6 385.8,80.7 386.6,80.8 387.4,80.5 388.2,80.7 389.0,80.8 389.8,80.6 390.6,80.5 391.4,80.5 392.2,80.7 393.0,80.7 393.8,80.9 394.6,80.8 395.4,80.5 396.2,80.5 397.0,80.6 397.8,80.5 398.6,80.8 399.4,80.9 400.2,80.9 401.0,80.6 401.8,80.9 402.6,80.6 403.4,80.7 404.2,80.8 405.0,80.5 405.8,80.5 406.6,80.9 407.4,80.6 408.2,80.7 409.0,80.8 409.8,80.8 410.6,80.5 411.4,80.7 412.2,80.7 413.0,80.7 413.8,80.6 414.6,80.8 415.4,81.0 416.2,80.7 417.0,80.8 417.8,80.6 418.6,80.6 419.4,80.8 420.2,80.6 421.0,81.0 421.8,81.0 422.6,80.6 423.4,81.0 424.2,80.7 425.0,80.9 425.8,80.9 426.6,80.7 427.4,80.9 428.2,80.9 429.0,80.9 429.8,80.7 430.6,80.9 431.4,81.0 432.2,80.9 433.0,80.8 433.8,80.6 434.6,80.8 435.4,80.7 436.2,80.9 437.0,80.9 437.8,80.8 438.6,80.6 439.4,80.9 440.2,80.9 441.0,80.6 441.8,81.0 442.6,80.9 443.4,80.6 444.2,81.0 445.0,80.6 445.8,80.7 446.6,80.9 447.4,80.8 448.2,80.8 449.0,80.9 449.8,80.8 450.6,80.7 451.4,80.6 452.2,80.6 453.0,80.9 453.8,80.9 454.6,80.8 455.4,80.9 456.2,80.7 457.0,80.7 457.8,80.7 458.6,81.0 459.4,80.6 460.2,80.8 461.0,80.7 461.8,80.9 462.6,80.7 463.4,80.7 464.2,80.7 465.0,80.8 465.8,80.9"/>
<polyline fill="none" stroke="#8fd08f" stroke-width="1.6" stroke-opacity="0.6" points="398.4,52.5 399.1,52.5 399.8,52.9 400.5,53.8 401.2,55.1 401.9,57.4 402.6,60.2 403.3,63.2 404.0,65.3 404.7,67.1 405.4,68.7 406.1,70.8 406.8,71.1 407.5,72.1 408.2,72.9 408.9,73.8 409.6,75.2 410.3,75.9 411.0,76.0 411.7,76.5 412.4,77.3 413.1,78.1 413.8,78.6 414.5,79.1 415.2,79.4 415.9,79.4 416.6,79.8 417.3,79.9 418.0,80.5 418.7,80.8 419.4,80.7 420.1,81.0 420.8,81.6 421.5,81.2 422.2,82.0 422.9,82.3 423.6,82.5 424.3,82.2 425.0,82.5 425.7,82.7 426.4,83.0 427.1,83.4 427.8,83.4 428.5,83.2 429.2,83.9 429.9,83.8 430.6,84.0 431.3,84.2 432.0,83.8 432.7,84.5 433.4,84.6 434.1,84.6 434.8,84.7 435.5,84.8 436.2,84.7 436.9,85.1 437.6,84.9 438.3,85.4 439.0,85.6 439.7,85.6 440.4,85.8 441.1,86.3 441.8,86.3 442.5,85.9 443.2,86.5 443.9,86.5 444.6,86.2 445.3,86.6 446.0,86.6 446.7,86.6"/>
<polyline fill="none" stroke="#6a9e7e" stroke-width="0.9" points="267.5,52.5 268.2,52.5 268.9,52.5 269.6,52.5 270.3,52.5 271.0,52.5 271.7,52.5 272.4,52.5 273.1,52.5 273.8,52.5 274.5,52.5 275.2,52.5 275.9,52.5 276.6,52.5 277.3,52.5 278.0,52.5 278.7,52.5 279.4,52.5 280.1,52.5 280.8,52.5 281.5,52.5 282.2,52.5 282.9,52.5 283.6,52.5 284.3,52.5 285.0,52.5 285.7,52.5 286.4,52.5 287.1,52.5 287.8,52.5 288.5,52.5 289.2,52.5 289.9,52.5 290.6,52.5"/>
<polyline fill="none" stroke="#2a8a3a" stroke-width="0.7" points="398.4,52.5 399.1,52.5 399.8,52.9 400.5,53.8 401.2,55.1 401.9,57.4 402.6,60.2 403.3,63.2 404.0,65.3 404.7,67.1 405.4,68.7 406.1,70.8 406.8,71.1 407.5,72.1 408.2,72.9 408.9,73.8 409.6,75.2 410.3,75.9 411.0,76.0 411.7,76.5 412.4,77.3 413.1,78.1 413.8,78.6 414.5,79.1 415.2,79.4 415.9,79.4 416.6,79.8 417.3,79.9 418.0,80.5 418.7,80.8 419.4,80.7 420.1,81.0 420.8,81.6 421.5,81.2 422.2,82.0 422.9,82.3 423.6,82.5 424.3,82.2 425.0,82.5 425.7,82.7 426.4,83.0 427.1,83.4 427.8,83.4 428.5,83.2 429.2,83.9 429.9,83.8 430.6,84.0 431.3,84.2 432.0,83.8 432.7,84.5 433.4,84.6 434.1,84.6 434.8,84.7 435.5,84.8 436.2,84.7 436.9,85.1 437.6,84.9 438.3,85.4 439.0,85.6 439.7,85.6 440.4,85.8 441.1,86.3 441.8,86.3 442.5,85.9 443.2,86.5 443.9,86.5 444.6,86.2 445.3,86.6 446.0,86.6 446.7,86.6"/>
<polyline fill="none" stroke="#3e3d74" stroke-width="0.95" points="289.0,52.4 289.7,52.4 290.4,52.4 291.1,52.4 291.8,52.4 292.5,52.4 293.2,52.4 293.9,52.4 294.6,52.4 295.3,52.4 296.0,52.4 296.7,52.4 297.4,52.4 298.1,52.4 298.8,52.4 299.5,52.4 300.2,52.4 300.9,52.4 301.6,52.4 302.3,52.4 303.0,52.4 303.7,52.4 304.4,52.4 305.1,52.4 305.8,52.4 306.5,52.4 307.2,52.4 307.9,52.4 308.6,52.4 309.3,52.4 310.0,52.4 310.7,52.4 311.4,52.4 312.1,52.4 312.8,52.4 313.5,52.4 314.2,52.4 314.9,52.4 315.6,52.4 316.3,52.4 317.0,52.4 317.7,52.4 318.4,52.4 319.1,52.4 319.8,52.4 320.5,52.4 321.2,52.4 321.9,52.4 322.6,52.4 323.3,52.4 324.0,52.4 324.7,52.4 325.4,52.4 326.1,52.4 326.8,52.4 327.5,52.4 328.2,52.4 328.9,52.4 329.6,52.4 330.3,52.4 331.0,52.4 331.7,52.4 332.4,52.4 333.1,52.4 333.8,52.4 334.5,52.4 335.2,52.4 335.9,52.4 336.6,52.4 337.3,52.4 338.0,52.4 338.7,52.4 339.4,52.4 340.1,52.4 340.8,52.4 341.5,52.4 342.2,52.4 342.9,52.4 343.6,52.4 344.3,52.4 345.0,52.4 345.7,52.4 346.4,52.4 347.1,52.4 347.8,52.4 348.5,52.4 349.2,52.4 349.9,52.4 350.6,52.4 351.3,52.4 352.0,52.4 352.7,52.4 353.4,52.4 354.1,52.4 354.8,52.4 355.5,52.4 356.2,52.4 356.9,52.4 357.6,52.4 358.3,52.4 359.0,52.4 359.7,52.4 360.4,52.4 361.1,52.4 361.8,52.4 362.5,52.4 363.2,52.4 363.9,52.4 364.6,52.4 365.3,52.4 366.0,52.4 366.7,52.4 367.4,52.4 368.1,52.4 368.8,52.4 369.5,52.4 370.2,52.4 370.9,52.4 371.6,52.4 372.3,52.4 373.0,52.4 373.7,52.4 374.4,52.4 375.1,52.4 375.8,52.4 376.5,52.4 377.2,52.4 377.9,52.4 378.6,52.4 379.3,52.4 380.0,52.4 380.7,52.4 381.4,52.4 382.1,52.4 382.8,52.4 383.5,52.4 384.2,52.4 384.9,52.4 385.6,52.4 386.3,52.4 387.0,52.4 387.7,52.4 388.4,52.4 389.1,52.4 389.8,52.4 390.5,52.4 391.2,52.4 391.9,52.4 392.6,52.4 393.3,52.4 394.0,52.4 394.7,52.4 395.4,52.4 396.1,52.4 396.8,52.4 397.5,52.4 398.2,52.4 398.9,52.4 399.6,52.4 400.3,52.4 401.0,52.4 401.7,52.4 402.4,52.4 403.1,52.4 403.8,52.4 404.5,52.4 405.2,52.4 405.9,52.4 406.6,52.4 407.3,52.4 408.0,52.4 408.7,52.4 409.4,52.4 410.1,52.4 410.8,52.4 411.5,52.4 412.2,52.4 412.9,52.4 413.6,52.4 414.3,52.4 415.0,52.4 415.7,52.4 416.4,52.4 417.1,52.4 417.8,52.4 418.5,52.4 419.2,52.4 419.9,52.4 420.6,52.4 421.3,52.4 422.0,52.4 422.7,52.4 423.4,52.4 424.1,52.4 424.8,52.4 425.5,52.4 426.2,52.4 426.9,52.4 427.6,52.4 428.3,52.4 429.0,52.4 429.7,52.4 430.4,52.4 431.1,52.4 431.8,52.4 432.5,52.4 433.2,52.4 433.9,52.4 434.6,52.4 435.3,52.4 436.0,52.4 436.7,52.4 437.4,52.4 438.1,52.4 438.8,52.4 439.5,52.5 440.2,53.4 440.9,54.2 441.6,55.0 442.3,55.9 443.0,57.0 443.7,58.0 444.4,59.1 445.1,60.2 445.8,61.6 446.5,63.0 447.2,64.4 447.9,65.8 448.6,67.1 449.3,68.4 450.0,69.7 450.7,70.9 451.4,71.8 452.1,72.5 452.8,73.1 453.5,73.7 454.2,74.3 454.9,74.9 455.6,75.3 456.3,75.6 457.0,76.0 457.7,76.3 458.4,76.7 459.1,77.0 459.8,77.4 460.5,77.7 461.2,78.0 461.9,78.3 462.6,78.5 463.3,78.8 464.0,79.1 464.7,79.4 465.4,79.7 466.1,79.9 466.8,80.2 467.5,80.5 468.2,80.8 468.9,81.1 469.6,81.3 470.3,81.6 471.0,81.7 471.7,81.9 472.4,82.1 473.1,82.3 473.8,82.4 474.5,82.6 475.2,82.8 475.9,83.0 476.6,83.1 477.3,83.3 478.0,83.5 478.7,83.7 479.4,83.8 480.1,84.0 480.8,84.2 481.5,84.4 482.2,84.7 482.9,84.9 483.6,85.1 484.3,85.3 485.0,85.5 485.7,85.7"/>
<text x="263.50" y="86.60" font-size="6.3" text-anchor="middle" fill="#222" stroke="#222" stroke-width="0.24" textLength="14.7" lengthAdjust="spacingAndGlyphs">R6H8</text>
<text x="263.60" y="94.50" font-size="6.3" text-anchor="middle" fill="#222" stroke="#222" stroke-width="0.24" textLength="9.8" lengthAdjust="spacingAndGlyphs">IgG</text>
<text x="291.90" y="73.60" font-size="6.3" text-anchor="middle" fill="#6664b0" stroke="#6664b0" stroke-width="0.15" textLength="23.2" lengthAdjust="spacingAndGlyphs">10 &#956;g/ml</text>
<text x="311.50" y="95.30" font-size="6.3" text-anchor="middle" fill="#e84848" stroke="#e84848" stroke-width="0.15" textLength="21.3" lengthAdjust="spacingAndGlyphs">5 &#956;g/ml</text>
<text x="384.70" y="60.70" font-size="6.3" text-anchor="middle" fill="#3a9a4c" stroke="#3a9a4c" stroke-width="0.12" textLength="24.6" lengthAdjust="spacingAndGlyphs">5 &#956;g/ml +</text>
<text x="384.70" y="67.90" font-size="6.3" text-anchor="middle" fill="#3a9a4c" stroke="#3a9a4c" stroke-width="0.12" textLength="29.6" lengthAdjust="spacingAndGlyphs">Anti-Fc&#947;RIIa</text>
<text x="480.20" y="93.40" font-size="6.3" text-anchor="middle" fill="#4e4ca2" stroke="#4e4ca2" stroke-width="0.15" textLength="27.9" lengthAdjust="spacingAndGlyphs">10 &#956;g/ml +</text>
<text x="480.20" y="100.10" font-size="6.3" text-anchor="middle" fill="#4e4ca2" stroke="#4e4ca2" stroke-width="0.15" textLength="29.6" lengthAdjust="spacingAndGlyphs">Anti-Fc&#947;RIIa</text>
<line x1="262.90" y1="183.40" x2="262.90" y2="268.20" stroke="#262626" stroke-width="1.1"/>
<line x1="260.30" y1="188.70" x2="262.90" y2="188.70" stroke="#262626" stroke-width="0.9"/>
<text x="257.60" y="190.70" font-size="5.8" text-anchor="end" fill="#2a2a2a" stroke="#2a2a2a" stroke-width="0.24">150</text>
<line x1="260.30" y1="215.00" x2="262.90" y2="215.00" stroke="#262626" stroke-width="0.9"/>
<text x="257.60" y="217.00" font-size="5.8" text-anchor="end" fill="#2a2a2a" stroke="#2a2a2a" stroke-width="0.24">100</text>
<line x1="260.30" y1="241.30" x2="262.90" y2="241.30" stroke="#262626" stroke-width="0.9"/>
<text x="257.60" y="243.30" font-size="5.8" text-anchor="end" fill="#2a2a2a" stroke="#2a2a2a" stroke-width="0.24">50</text>
<line x1="260.30" y1="267.60" x2="262.90" y2="267.60" stroke="#262626" stroke-width="0.9"/>
<text x="257.60" y="269.60" font-size="5.8" text-anchor="end" fill="#2a2a2a" stroke="#2a2a2a" stroke-width="0.24">0</text>
<text x="241.00" y="225.30" font-size="6.8" text-anchor="middle" fill="#222" stroke="#222" stroke-width="0.3" textLength="54.2" lengthAdjust="spacingAndGlyphs" transform="rotate(-90 241.00 225.30)">P-selectin binding (%)</text>
<line x1="262.40" y1="267.80" x2="379.50" y2="267.80" stroke="#262626" stroke-width="1.1"/>
<rect x="265.40" y="265.50" width="14.00" height="2.10" fill="#d6d6d8"/>
<line x1="272.40" y1="267.80" x2="272.40" y2="270.40" stroke="#262626" stroke-width="0.9"/>
<rect x="284.80" y="218.95" width="14.00" height="48.66" fill="#c9c9cb"/>
<line x1="291.80" y1="267.80" x2="291.80" y2="270.40" stroke="#262626" stroke-width="0.9"/>
<rect x="304.20" y="225.52" width="14.00" height="42.08" fill="#cc0829"/>
<line x1="311.20" y1="267.80" x2="311.20" y2="270.40" stroke="#262626" stroke-width="0.9"/>
<rect x="323.60" y="218.95" width="14.00" height="48.66" fill="#cc0829"/>
<line x1="330.60" y1="267.80" x2="330.60" y2="270.40" stroke="#262626" stroke-width="0.9"/>
<rect x="343.00" y="263.66" width="14.00" height="3.94" fill="#f0a233"/>
<line x1="350.00" y1="267.80" x2="350.00" y2="270.40" stroke="#262626" stroke-width="0.9"/>
<rect x="362.40" y="263.66" width="14.00" height="3.94" fill="#f0a233"/>
<line x1="369.40" y1="267.80" x2="369.40" y2="270.40" stroke="#262626" stroke-width="0.9"/>
<line x1="291.80" y1="216.58" x2="291.80" y2="220.26" stroke="#161616" stroke-width="0.9"/>
<line x1="288.80" y1="216.58" x2="294.80" y2="216.58" stroke="#161616" stroke-width="1.125"/>
<line x1="288.80" y1="220.26" x2="294.80" y2="220.26" stroke="#161616" stroke-width="1.125"/>
<line x1="311.20" y1="216.32" x2="311.20" y2="233.94" stroke="#161616" stroke-width="0.9"/>
<line x1="308.20" y1="216.32" x2="314.20" y2="216.32" stroke="#161616" stroke-width="1.125"/>
<line x1="308.20" y1="233.94" x2="314.20" y2="233.94" stroke="#161616" stroke-width="1.125"/>
<line x1="330.60" y1="215.00" x2="330.60" y2="221.31" stroke="#161616" stroke-width="0.9"/>
<line x1="327.60" y1="215.00" x2="333.60" y2="215.00" stroke="#161616" stroke-width="1.125"/>
<line x1="327.60" y1="221.31" x2="333.60" y2="221.31" stroke="#161616" stroke-width="1.125"/>
<circle cx="269.40" cy="264.80" r="1.12" fill="#111"/>
<circle cx="272.40" cy="264.80" r="1.12" fill="#111"/>
<circle cx="275.40" cy="264.80" r="1.12" fill="#111"/>
<circle cx="289.30" cy="217.10" r="1.12" fill="#111"/>
<circle cx="292.80" cy="219.21" r="1.12" fill="#111"/>
<circle cx="294.80" cy="218.68" r="1.12" fill="#111"/>
<circle cx="311.20" cy="216.58" r="1.12" fill="#111"/>
<circle cx="311.20" cy="225.52" r="1.12" fill="#111"/>
<circle cx="310.20" cy="230.78" r="1.12" fill="#111"/>
<circle cx="329.10" cy="215.53" r="1.12" fill="#111"/>
<circle cx="332.10" cy="215.53" r="1.12" fill="#111"/>
<circle cx="330.60" cy="220.26" r="1.12" fill="#111"/>
<circle cx="347.00" cy="264.20" r="1.12" fill="#111"/>
<circle cx="350.00" cy="264.50" r="1.12" fill="#111"/>
<circle cx="353.00" cy="264.20" r="1.12" fill="#111"/>
<circle cx="366.40" cy="264.20" r="1.12" fill="#111"/>
<circle cx="369.40" cy="264.50" r="1.12" fill="#111"/>
<circle cx="372.40" cy="264.20" r="1.12" fill="#111"/>
<text x="274.60" y="276.20" font-size="5.9" text-anchor="end" fill="#2a2a2a" stroke="#2a2a2a" stroke-width="0.24" transform="rotate(-45 274.60 276.20)">Control</text>
<text x="294.00" y="276.20" font-size="5.9" text-anchor="end" fill="#2a2a2a" stroke="#2a2a2a" stroke-width="0.24" transform="rotate(-45 294.00 276.20)">T6</text>
<text x="313.40" y="276.20" font-size="5.9" text-anchor="end" fill="#2a2a2a" stroke="#2a2a2a" stroke-width="0.24" transform="rotate(-45 313.40 276.20)">R6H8-5 &#956;g/ml</text>
<text x="332.80" y="276.20" font-size="5.9" text-anchor="end" fill="#2a2a2a" stroke="#2a2a2a" stroke-width="0.24" transform="rotate(-45 332.80 276.20)">R6H8-40 &#956;g/ml</text>
<text x="352.20" y="276.20" font-size="5.9" text-anchor="end" fill="#2a2a2a" stroke="#2a2a2a" stroke-width="0.24" transform="rotate(-45 352.20 276.20)">R6H8-5 &#956;g/ml</text>
<text x="371.60" y="276.20" font-size="5.9" text-anchor="end" fill="#2a2a2a" stroke="#2a2a2a" stroke-width="0.24" transform="rotate(-45 371.60 276.20)">R6H8-40 &#956;g/ml</text>
<line x1="342.00" y1="220.90" x2="378.40" y2="220.90" stroke="#262626" stroke-width="1.1"/>
<text x="360.40" y="202.20" font-size="6.2" text-anchor="middle" fill="#2a2a2a" stroke="#2a2a2a" stroke-width="0.24" textLength="31.5" lengthAdjust="spacingAndGlyphs">Anti-Fc&#947;RIIa</text>
<text x="360.40" y="209.50" font-size="6.2" text-anchor="middle" fill="#2a2a2a" stroke="#2a2a2a" stroke-width="0.24">(IV.3)</text>
<text x="360.20" y="217.40" font-size="6.2" text-anchor="middle" fill="#2a2a2a" stroke="#2a2a2a" stroke-width="0.24" textLength="23.6" lengthAdjust="spacingAndGlyphs">10 &#956;g/ml</text>
<line x1="422.90" y1="183.40" x2="422.90" y2="268.40" stroke="#262626" stroke-width="1.1"/>
<line x1="420.30" y1="196.10" x2="422.90" y2="196.10" stroke="#262626" stroke-width="0.9"/>
<text x="418.00" y="198.10" font-size="5.8" text-anchor="end" fill="#2a2a2a" stroke="#2a2a2a" stroke-width="0.24">100</text>
<line x1="420.30" y1="229.15" x2="422.90" y2="229.15" stroke="#262626" stroke-width="0.9"/>
<text x="418.00" y="231.15" font-size="5.8" text-anchor="end" fill="#2a2a2a" stroke="#2a2a2a" stroke-width="0.24">50</text>
<line x1="420.30" y1="262.20" x2="422.90" y2="262.20" stroke="#262626" stroke-width="0.9"/>
<text x="418.00" y="264.20" font-size="5.8" text-anchor="end" fill="#2a2a2a" stroke="#2a2a2a" stroke-width="0.24">0</text>
<text x="402.30" y="225.00" font-size="6.8" text-anchor="middle" fill="#222" stroke="#222" stroke-width="0.3" textLength="54.7" lengthAdjust="spacingAndGlyphs" transform="rotate(-90 402.30 225.00)">P-selectin binding (%)</text>
<line x1="422.40" y1="268.10" x2="513.10" y2="268.10" stroke="#262626" stroke-width="1.1"/>
<rect x="427.10" y="258.89" width="12.80" height="3.31" fill="#9195a9"/>
<line x1="433.50" y1="268.10" x2="433.50" y2="270.70" stroke="#262626" stroke-width="0.9"/>
<rect x="444.52" y="213.95" width="12.80" height="48.25" fill="#9195a9"/>
<line x1="450.92" y1="268.10" x2="450.92" y2="270.70" stroke="#262626" stroke-width="0.9"/>
<rect x="461.94" y="227.17" width="12.80" height="35.03" fill="#9195a9"/>
<line x1="468.34" y1="268.10" x2="468.34" y2="270.70" stroke="#262626" stroke-width="0.9"/>
<rect x="479.36" y="249.64" width="12.80" height="12.56" fill="#9195a9"/>
<line x1="485.76" y1="268.10" x2="485.76" y2="270.70" stroke="#262626" stroke-width="0.9"/>
<rect x="496.78" y="255.92" width="12.80" height="6.28" fill="#9195a9"/>
<line x1="503.18" y1="268.10" x2="503.18" y2="270.70" stroke="#262626" stroke-width="0.9"/>
<line x1="422.90" y1="261.80" x2="513.10" y2="261.80" stroke="#333" stroke-width="0.7"/>
<line x1="450.92" y1="198.50" x2="450.92" y2="229.50" stroke="#161616" stroke-width="0.9"/>
<line x1="447.92" y1="198.50" x2="453.92" y2="198.50" stroke="#161616" stroke-width="1.125"/>
<line x1="447.92" y1="229.50" x2="453.92" y2="229.50" stroke="#161616" stroke-width="1.125"/>
<line x1="468.34" y1="215.00" x2="468.34" y2="241.00" stroke="#161616" stroke-width="0.9"/>
<line x1="465.34" y1="215.00" x2="471.34" y2="215.00" stroke="#161616" stroke-width="1.125"/>
<line x1="465.34" y1="241.00" x2="471.34" y2="241.00" stroke="#161616" stroke-width="1.125"/>
<line x1="485.76" y1="234.60" x2="485.76" y2="264.00" stroke="#161616" stroke-width="0.9"/>
<line x1="482.76" y1="234.60" x2="488.76" y2="234.60" stroke="#161616" stroke-width="1.125"/>
<line x1="482.76" y1="264.00" x2="488.76" y2="264.00" stroke="#161616" stroke-width="1.125"/>
<line x1="503.18" y1="250.30" x2="503.18" y2="262.50" stroke="#161616" stroke-width="0.9"/>
<line x1="500.18" y1="250.30" x2="506.18" y2="250.30" stroke="#161616" stroke-width="1.125"/>
<circle cx="430.50" cy="259.30" r="1.12" fill="#111"/>
<circle cx="433.50" cy="259.30" r="1.12" fill="#111"/>
<circle cx="436.50" cy="259.30" r="1.12" fill="#111"/>
<circle cx="448.92" cy="203.80" r="1.12" fill="#111"/>
<circle cx="453.22" cy="206.50" r="1.12" fill="#111"/>
<circle cx="450.92" cy="232.50" r="1.12" fill="#111"/>
<circle cx="468.34" cy="220.00" r="1.12" fill="#111"/>
<circle cx="468.34" cy="223.00" r="1.12" fill="#111"/>
<circle cx="468.34" cy="240.50" r="1.12" fill="#111"/>
<circle cx="484.26" cy="259.50" r="1.12" fill="#111"/>
<circle cx="487.26" cy="259.50" r="1.12" fill="#111"/>
<circle cx="502.18" cy="257.50" r="1.12" fill="#111"/>
<circle cx="504.18" cy="259.50" r="1.12" fill="#111"/>
<text x="433.50" y="279.00" font-size="6.0" text-anchor="middle" fill="#2a2a2a" stroke="#2a2a2a" stroke-width="0.24">3.0</text>
<text x="450.92" y="279.00" font-size="6.0" text-anchor="middle" fill="#2a2a2a" stroke="#2a2a2a" stroke-width="0.24">3.0</text>
<text x="468.34" y="279.00" font-size="6.0" text-anchor="middle" fill="#2a2a2a" stroke="#2a2a2a" stroke-width="0.24">1.0</text>
<text x="485.76" y="279.00" font-size="6.0" text-anchor="middle" fill="#2a2a2a" stroke="#2a2a2a" stroke-width="0.24">0.5</text>
<text x="503.18" y="279.00" font-size="6.0" text-anchor="middle" fill="#2a2a2a" stroke="#2a2a2a" stroke-width="0.24">0.1</text>
<text x="468.50" y="290.80" font-size="8.0" text-anchor="middle" fill="#222" stroke="#222" stroke-width="0.4" textLength="80.6" lengthAdjust="spacingAndGlyphs">Platelet concentration (&#215;10<tspan font-size="4.6" dy="-2.8">8</tspan><tspan dy="2.8">/ml)</tspan></text>
<line x1="443.40" y1="192.40" x2="513.50" y2="192.40" stroke="#262626" stroke-width="0.9"/>
<text x="478.70" y="188.30" font-size="6.2" text-anchor="middle" fill="#2a2a2a" stroke="#2a2a2a" stroke-width="0.24" textLength="41.0" lengthAdjust="spacingAndGlyphs">R6H8 (5 &#956;g/ml)</text>
<rect x="0" y="0" width="520" height="1.1" fill="#686868"/>
<rect x="0" y="0" width="1.1" height="314" fill="#747474"/>
<rect x="518.88" y="0" width="1.12" height="314" fill="#666"/>
<rect x="0" y="312.8" width="520" height="1.2" fill="#666"/>
</svg>
</body></html>
